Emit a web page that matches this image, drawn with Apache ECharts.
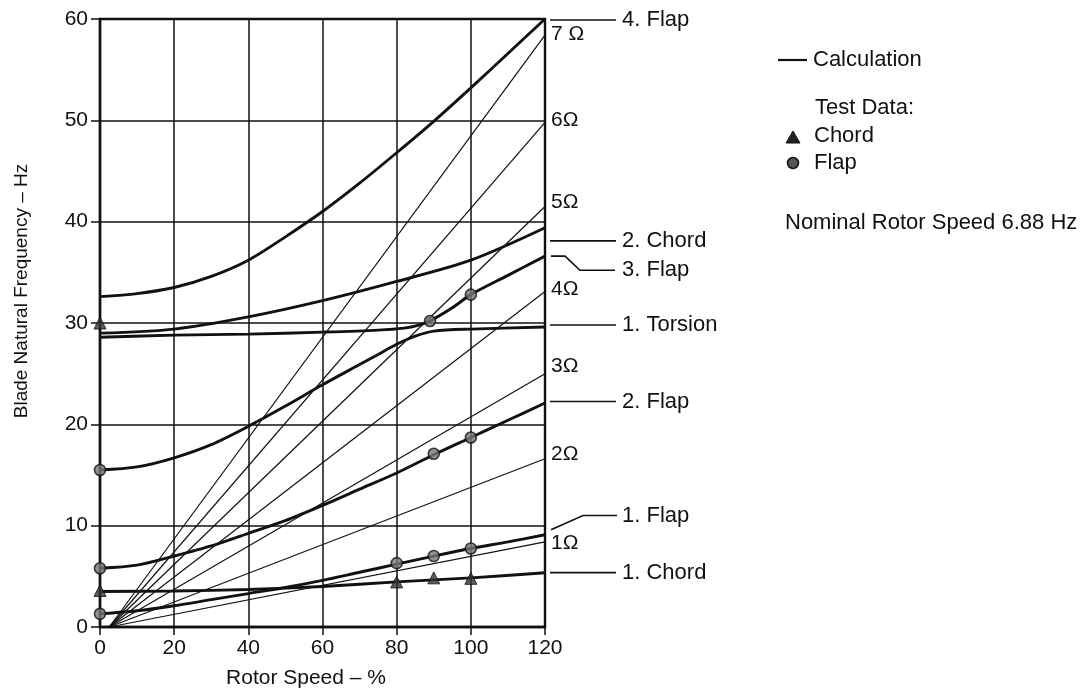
<!DOCTYPE html>
<html><head><meta charset="utf-8">
<script src="https://cdn.jsdelivr.net/npm/echarts/dist/echarts.min.js"></script>
<style>html,body{margin:0;padding:0;background:#fff}#c{width:1087px;height:693px}</style>
</head><body><div id="c"></div>
<script>
// ---- data ----
const xTicks = [0, 20, 40, 60, 80, 100, 120];
const yTicks = [0, 10, 20, 30, 40, 50, 60];

// calculated curves [rotor speed %, Hz]
const flap4 = [[0,32.6],[10,32.9],[20,33.5],[30,34.6],[40,36.2],[50,38.5],[60,41.0],[70,43.8],[80,46.8],[90,49.9],[100,53.2],[110,56.6],[120,60]];
const chord2 = [[0,29.0],[20,29.4],[40,30.6],[60,32.2],[80,34.1],[100,36.2],[120,39.4]];
const torsionToFlap3 = [[0,28.6],[20,28.8],[40,28.9],[60,29.1],[75,29.3],[82,29.5],[86,29.8],[89,30.2],[95,31.5],[100,32.8],[110,34.7],[120,36.6]];
const flap3ToTorsion = [[0,15.5],[10,15.8],[20,16.7],[30,18.0],[40,19.8],[50,21.8],[60,23.9],[70,25.9],[75,26.9],[80,27.9],[85,28.7],[90,29.2],[100,29.4],[120,29.6]];
const flap2 = [[0,5.8],[10,6.1],[20,7.0],[30,8.0],[40,9.25],[50,10.5],[60,12.0],[70,13.6],[80,15.2],[90,17.0],[100,18.7],[110,20.4],[120,22.1]];
const flap1 = [[0,1.3],[10,1.6],[20,2.1],[30,2.7],[40,3.3],[50,3.9],[60,4.6],[70,5.4],[80,6.2],[90,7.0],[100,7.75],[110,8.4],[120,9.1]];
const chord1 = [[0,3.5],[20,3.55],[40,3.7],[60,4.0],[80,4.45],[100,4.85],[120,5.35]];

// rotor harmonics nΩ: start point and value at 120 %
const harmonicNames = ['1Ω','2Ω','3Ω','4Ω','5Ω','6Ω','7 Ω'];
const harmonicStart = [2.5, 0];
const harmonicEnd = [8.4, 16.6, 25.0, 33.1, 41.5, 49.8, 58.4];
const harmonicLabelAt = [8.3, 17.1, 25.7, 33.3, 41.9, 50.0, 58.5];

// test data
const chordTest = [[0,30.0],[0,3.6],[80,4.45],[90,4.85],[100,4.8]];
const flapTest = [[0,1.3],[0,5.8],[0,15.5],[80,6.3],[90,7.0],[100,7.75],[90,17.1],[100,18.7],[89,30.2],[100,32.8]];

// right-hand mode labels (leader start value, leader end value)
const modeNames = ['4. Flap','2. Chord','3. Flap','1. Torsion','2. Flap','1. Flap','1. Chord'];
const modeFrom  = [59.9, 38.1, 36.6, 29.8, 22.25, 9.6, 5.37];
const modeTo    = [59.9, 38.1, 35.2, 29.8, 22.25, 11.0, 5.37];

const FONT = "'Liberation Sans', Arial, Helvetica, sans-serif";
const INK = '#111';

const chart = echarts.init(document.getElementById('c'));

function curve(data){
  return {type:'line', data, smooth:0.3, showSymbol:false, silent:true,
          lineStyle:{color:INK, width:2.9}, z:3};
}
const series = [flap4, chord2, torsionToFlap3, flap3ToTorsion, flap2, flap1, chord1].map(curve);
harmonicEnd.forEach(v => series.push({type:'line', data:[harmonicStart, [120, v]], showSymbol:false, silent:true,
  lineStyle:{color:INK, width:1.2}, z:2}));
series.push({type:'scatter', data:chordTest, symbol:'triangle', symbolSize:12, silent:true,
  itemStyle:{color:'#333', borderColor:INK, borderWidth:1}, z:5});
series.push({type:'scatter', data:flapTest, symbol:'circle', symbolSize:11, silent:true,
  itemStyle:{color:'#777', borderColor:INK, borderWidth:1.6}, z:5});

chart.setOption({
  animation:false,
  backgroundColor:'#fff',
  grid:{left:100, right:542, top:19, bottom:66, show:true, borderColor:INK, borderWidth:2.4},
  xAxis:{type:'value', min:0, max:120, interval:20,
    axisLine:{show:true, lineStyle:{color:INK, width:2.4}},
    axisTick:{show:true, length:8, lineStyle:{color:INK, width:1.5}},
    axisLabel:{color:INK, fontSize:21, fontFamily:FONT, margin:11,
      formatter: v => xTicks.includes(v) ? String(v) : ''},
    splitLine:{show:true, lineStyle:{color:INK, width:1.5}}},
  yAxis:{type:'value', min:0, max:60, interval:10,
    axisLine:{show:true, lineStyle:{color:INK, width:2.4}},
    axisTick:{show:true, length:9, lineStyle:{color:INK, width:1.5}},
    axisLabel:{color:INK, fontSize:21, fontFamily:FONT, margin:12,
      formatter: v => yTicks.includes(v) ? String(v) : ''},
    splitLine:{show:true, lineStyle:{color:INK, width:1.5}}},
  series
});

// ---- annotations placed through the axis scales ----
const px = (x, y) => chart.convertToPixel({gridIndex:0}, [x, y]);
const xr = px(120, 0)[0];
const yOf = v => px(0, v)[1];
function txt(x, y, text, size, extra){
  return Object.assign({type:'text', x, y, silent:true,
    style:{text, fill:INK, fontSize:size, fontFamily:FONT, textAlign:'left', textVerticalAlign:'middle', align:'left', verticalAlign:'middle'}}, extra||{});
}
function pl(points, w){
  return {type:'polyline', silent:true, shape:{points}, style:{stroke:INK, lineWidth:w||1.6, fill:null}};
}
const g = [];
harmonicNames.forEach((n, i) => g.push(txt(xr + 6, yOf(harmonicLabelAt[i]), n, 21)));
modeNames.forEach((n, i) => {
  const y1 = yOf(modeFrom[i]), y2 = yOf(modeTo[i]);
  if (n === '3. Flap') g.push(pl([[xr+6,y1],[xr+20,y1],[xr+35,y2],[xr+70,y2]]));
  else if (n === '1. Flap') g.push(pl([[xr+6,y1],[xr+38,y2],[xr+72,y2]]));
  else g.push(pl([[xr+5,y1],[xr+71,y1]]));
  g.push(txt(xr + 77, y2, n, 22));
});
// axis titles
g.push({type:'text', x:22, y:291, rotation:Math.PI/2, silent:true,
  style:{text:'Blade Natural Frequency – Hz', fill:INK, fontSize:19, fontFamily:FONT, textAlign:'center', textVerticalAlign:'middle', align:'center', verticalAlign:'middle'}});
g.push({type:'text', x:306, y:678, silent:true,
  style:{text:'Rotor Speed – %', fill:INK, fontSize:21, fontFamily:FONT, textAlign:'center', textVerticalAlign:'middle', align:'center', verticalAlign:'middle'}});
// legend block
g.push(pl([[778,60],[807,60]], 2.2));
g.push(txt(813, 60, 'Calculation', 22));
g.push(txt(815, 108, 'Test Data:', 22));
g.push({type:'polygon', silent:true, shape:{points:[[793,131],[786,143],[800,143]]}, style:{fill:'#222', stroke:INK, lineWidth:1}});
g.push(txt(814, 136, 'Chord', 22));
g.push({type:'circle', silent:true, shape:{cx:793, cy:163, r:5.5}, style:{fill:'#555', stroke:INK, lineWidth:1.5}});
g.push(txt(814, 163, 'Flap', 22));
g.push(txt(785, 223, 'Nominal Rotor Speed 6.88 Hz', 22));
chart.setOption({graphic:{elements:g}});
</script>
</body></html>
